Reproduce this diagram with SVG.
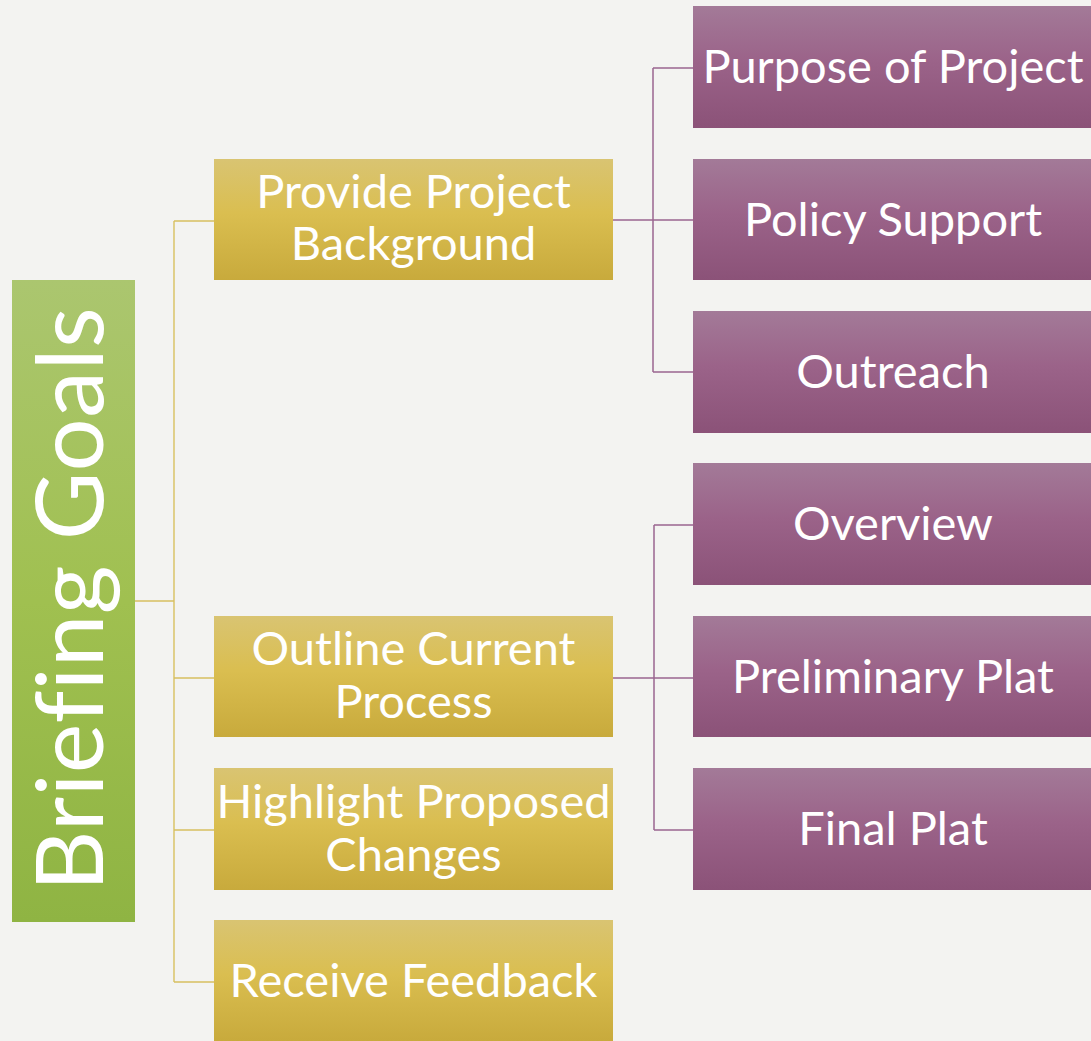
<svg xmlns="http://www.w3.org/2000/svg" width="1091" height="1041" viewBox="0 0 1091 1041">
<defs>
<linearGradient id="gGreen" x1="0" y1="0" x2="0" y2="1">
<stop offset="0" stop-color="#abc66f"/>
<stop offset="0.5" stop-color="#a0c050"/>
<stop offset="1" stop-color="#8fb443"/>
</linearGradient>
<linearGradient id="gGold" x1="0" y1="0" x2="0" y2="1">
<stop offset="0" stop-color="#d9c472"/>
<stop offset="0.45" stop-color="#dabe50"/>
<stop offset="1" stop-color="#c8aa3c"/>
</linearGradient>
<linearGradient id="gPurple" x1="0" y1="0" x2="0" y2="1">
<stop offset="0" stop-color="#a37a98"/>
<stop offset="0.45" stop-color="#9b6389"/>
<stop offset="1" stop-color="#8b5278"/>
</linearGradient>
</defs>
<style>
.t{font-family:Lato,"Open Sans","DejaVu Sans",sans-serif;fill:#ffffff;text-anchor:middle;font-size:47px;font-variant-ligatures:none;font-feature-settings:"liga" 0}
.root{font-size:94px;letter-spacing:0.5px}
.gold{fill:url(#gGold)}
.purple{fill:url(#gPurple)}
.cg{fill:none;stroke:#d8c060;stroke-width:1.4}
.cp{fill:none;stroke:#9b6590;stroke-width:1.5}
</style>
<rect width="1091" height="1041" fill="#f3f3f1"/>
<g id="connectors">
<path class="cg" d="M135 601 H174 M174 221 V982 M174 221 H214 M174 678 H214 M174 830 H214 M174 982 H214"/>
<path class="cp" d="M613 220 H693 M653 68 V372 M653 68 H693 M653 372 H693"/>
<path class="cp" d="M613 678 H693 M654 525 V830 M654 525 H693 M654 830 H693"/>
</g>
<g id="root">
<rect x="12" y="280" width="123" height="642" fill="url(#gGreen)"/>
<text class="t root" transform="translate(103,599) rotate(-90)">Briefing Goals</text>
</g>
<g id="n1">
<rect class="gold" x="214" y="159" width="399" height="121"/>
<text class="t" x="413.5" y="208">Provide Project</text>
<text class="t" x="413.5" y="260">Background</text>
</g>
<g id="n2">
<rect class="gold" x="214" y="616" width="399" height="121"/>
<text class="t" x="413.5" y="665">Outline Current</text>
<text class="t" x="413.5" y="718">Process</text>
</g>
<g id="n3">
<rect class="gold" x="214" y="768" width="399" height="122"/>
<text class="t" x="413.5" y="818">Highlight Proposed</text>
<text class="t" x="413.5" y="871">Changes</text>
</g>
<g id="n4">
<rect class="gold" x="214" y="920" width="399" height="121"/>
<text class="t" x="413.5" y="997">Receive Feedback</text>
</g>
<g id="p1">
<rect class="purple" x="693" y="6" width="398" height="122"/>
<text class="t" x="893" y="83">Purpose of Project</text>
</g>
<g id="p2">
<rect class="purple" x="693" y="159" width="398" height="121"/>
<text class="t" x="893" y="236">Policy Support</text>
</g>
<g id="p3">
<rect class="purple" x="693" y="311" width="398" height="122"/>
<text class="t" x="893" y="388">Outreach</text>
</g>
<g id="p4">
<rect class="purple" x="693" y="463" width="398" height="122"/>
<text class="t" x="893" y="540">Overview</text>
</g>
<g id="p5">
<rect class="purple" x="693" y="616" width="398" height="121"/>
<text class="t" x="893" y="693">Preliminary Plat</text>
</g>
<g id="p6">
<rect class="purple" x="693" y="768" width="398" height="122"/>
<text class="t" x="893" y="845">Final Plat</text>
</g>
</svg>
